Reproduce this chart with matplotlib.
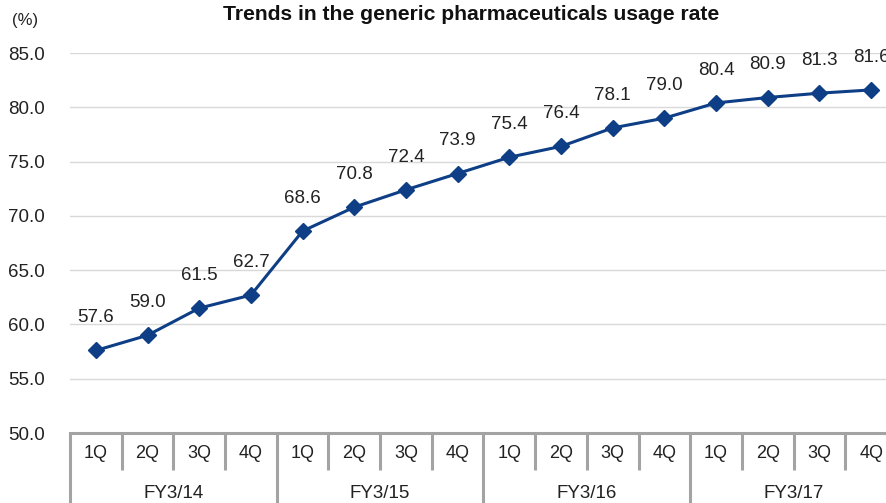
import matplotlib.pyplot as plt
import matplotlib.transforms as mtransforms

plt.rcParams['font.family'] = ['Liberation Sans', 'DejaVu Sans']

# Data
fiscal_years = ["FY3/14", "FY3/15", "FY3/16", "FY3/17"]
quarters = ["1Q", "2Q", "3Q", "4Q"]
usage_rate = [57.6, 59.0, 61.5, 62.7,
              68.6, 70.8, 72.4, 73.9,
              75.4, 76.4, 78.1, 79.0,
              80.4, 80.9, 81.3, 81.6]

LINE_COLOR = "#0e3e85"
FRAME_COLOR = "#a3a3a3"
TEXT_COLOR = "#222222"

fig = plt.figure(figsize=(8.86, 5.03), dpi=100)
# axes runs slightly past the right edge of the figure
ax = fig.add_axes([70 / 886, 70 / 503, 827 / 886, 380 / 503])

x = list(range(len(usage_rate)))
ax.plot(x, usage_rate, color=LINE_COLOR, linewidth=2.2,
        marker="D", markersize=8.5, markerfacecolor=LINE_COLOR,
        markeredgecolor=LINE_COLOR, zorder=3)

for xi, v in zip(x, usage_rate):
    ax.annotate(f"{v:.1f}", (xi, v), xytext=(0, 23.5), textcoords="offset points",
                ha="center", va="center", fontsize=13.5, color=TEXT_COLOR)

ax.set_xlim(-0.5, len(usage_rate) - 0.5)
ax.set_ylim(50, 85)
ax.set_yticks([50, 55, 60, 65, 70, 75, 80, 85])
ax.set_yticklabels([f"{t:.1f}" for t in ax.get_yticks()])
ax.tick_params(axis="y", length=0, pad=18, labelsize=13.5, labelcolor=TEXT_COLOR)
ax.grid(axis="y", color="#d9d9d9", linewidth=1)
ax.set_axisbelow(True)

for s in ["left", "right", "top"]:
    ax.spines[s].set_visible(False)
ax.spines["bottom"].set_color(FRAME_COLOR)
ax.spines["bottom"].set_linewidth(2.2)

# two-level category axis
ax.set_xticks(x)
ax.set_xticklabels(quarters * len(fiscal_years))
ax.tick_params(axis="x", length=0, pad=9, labelsize=13, labelcolor=TEXT_COLOR)

trans = mtransforms.blended_transform_factory(ax.transData, ax.transAxes)
q_depth = -37 / 380
y_depth = -75 / 380
for k in range(len(usage_rate) + 1):
    b = k - 0.5
    bottom = y_depth if k % 4 == 0 else q_depth
    ax.plot([b, b], [0, bottom], transform=trans, color=FRAME_COLOR,
            linewidth=2.2, clip_on=False, solid_capstyle="butt")

for i, fy in enumerate(fiscal_years):
    ax.text(i * 4 + 1.5, -61 / 380, fy, transform=trans, ha="center",
            va="center", fontsize=13.5, color=TEXT_COLOR)

fig.text(25 / 886, 1 - 20 / 503, "(%)", ha="center", va="center",
         fontsize=12, color=TEXT_COLOR)
fig.text(471 / 886, 1 - 14 / 503, "Trends in the generic pharmaceuticals usage rate",
         ha="center", va="center", fontsize=15.2, fontweight="bold", color="#111111")

fig.savefig("out.png", dpi=100)
